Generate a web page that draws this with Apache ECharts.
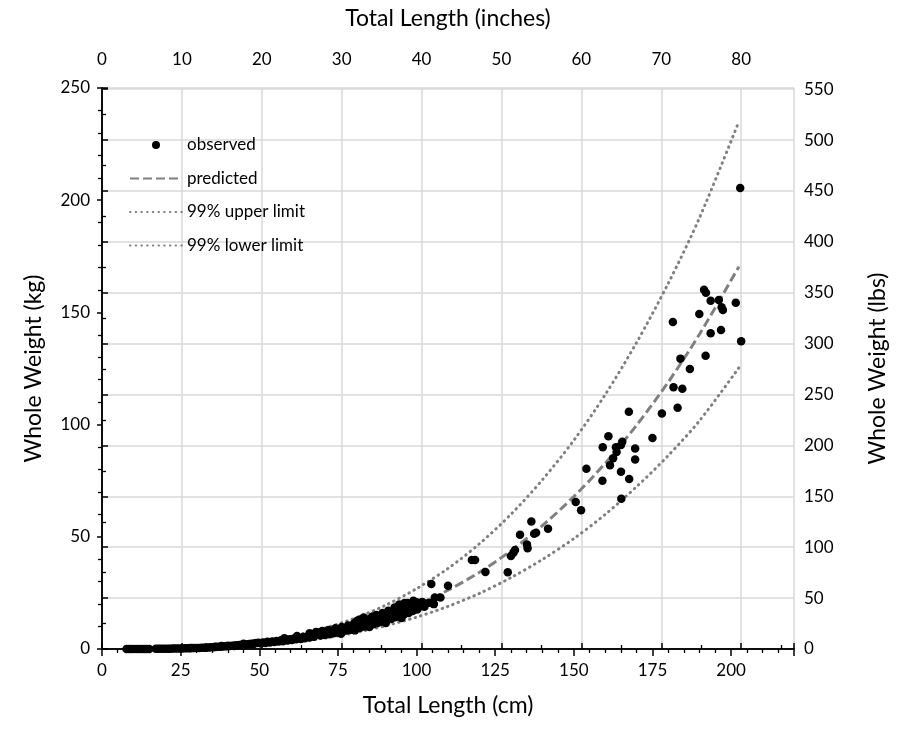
<!DOCTYPE html>
<html>
<head>
<meta charset="utf-8">
<script src="https://cdn.jsdelivr.net/npm/echarts@6/dist/echarts.min.js"></script>
<style>
  html, body { margin: 0; padding: 0; background: #fff; }
  #chart { width: 897px; height: 734px; }
</style>
</head>
<body>
<div id="chart"></div>
<script>
// observed fish: total length (cm) and whole weight (kg)
var obsLength = [
  7.8, 8.6, 9.3, 10.1, 11.0, 11.8, 12.6, 13.4, 14.2, 15.0,
  17.1, 17.9, 18.6, 19.4, 20.2, 21.0, 21.7, 22.5, 23.2, 24.0,
  24.8, 25.5, 26.3, 27.0, 27.8, 28.6, 29.3, 30.1, 30.8, 31.6,
  32.4, 33.1, 33.9, 34.6, 35.4, 36.1, 36.9, 37.7, 38.4, 39.2,
  39.9, 40.7, 41.4, 42.2, 43.0, 43.7, 44.5, 45.2, 46.0, 46.8,
  47.5, 48.3, 49.0, 49.8, 28.0, 33.0, 38.0, 42.0, 45.0, 48.0, 36.0, 40.0,
  50.5, 51.2, 52.0, 52.6, 53.4, 54.1, 54.8, 55.5, 56.2, 56.9,
  57.5, 58.3, 59.0, 59.6, 60.4, 61.1, 61.7, 62.5, 63.2, 63.9,
  64.5, 65.3, 66.0, 66.6, 67.4, 68.1, 68.7, 69.4, 70.2, 70.8,
  71.5, 72.3, 72.9, 73.6, 74.4, 75.0, 75.7, 76.5, 77.1, 77.8,
  78.6, 79.2, 80.0, 80.7, 81.3, 82.1, 82.8, 83.5, 84.2, 84.9,
  85.6, 86.3, 87.0, 87.6, 88.4, 89.0, 89.8, 90.5, 91.1, 91.9,
  92.5, 93.2, 94.0, 94.6, 95.4, 96.0, 96.7, 97.5, 98.1, 98.8,
  99.5, 100.2, 101.0, 101.8, 102.5,
  64.0, 69.0, 74.0, 79.0, 84.0, 88.0, 92.0, 96.5, 100.0, 83.0, 90.0, 97.0,
  58.0, 62.0, 66.0, 68.0, 70.0, 72.0, 74.2, 76.2, 78.2, 80.2, 81.0, 82.0,
  83.2, 85.2, 86.0, 87.2, 89.2, 91.0, 93.0, 95.0, 97.2, 99.0,
  76.0, 80.4, 85.0, 90.2, 95.2, 94.5, 96.2, 97.8, 99.3, 100.6,
  104.7, 104.0, 105.5, 105.8, 107.6, 110.0,
  117.6, 118.6, 121.9, 129.0, 130.0, 130.8, 131.3, 132.9, 135.1, 135.3, 136.5, 137.4, 138.0, 141.8,
  150.6, 152.3, 154.0, 159.1, 159.2, 161.0, 161.5, 162.5, 163.4, 163.6, 165.0, 165.4, 165.0, 165.1,
  167.5, 167.6, 169.5, 169.5, 175.0, 178.0, 181.7, 183.0, 184.5, 186.9, 183.9, 181.5, 191.9, 193.5,
  196.8, 203.2, 189.9, 191.4, 192.0, 193.5, 196.1, 197.0, 197.4, 201.5, 202.9
];
var obsWeight = [
  0.01, 0.01, 0.01, 0.02, 0.02, 0.02, 0.03, 0.03, 0.04, 0.05,
  0.07, 0.08, 0.09, 0.10, 0.12, 0.13, 0.15, 0.17, 0.19, 0.21,
  0.24, 0.26, 0.29, 0.32, 0.35, 0.39, 0.42, 0.47, 0.50, 0.55,
  0.60, 0.65, 0.71, 0.76, 0.83, 0.89, 0.96, 1.03, 1.10, 1.19,
  1.27, 1.36, 1.44, 1.55, 1.66, 1.76, 1.88, 1.98, 2.12, 2.24,
  2.36, 2.50, 2.62, 2.78, 0.45, 0.55, 1.3, 1.3, 2.3, 2.1, 1.05, 1.5,
  2.5, 2.9, 2.7, 3.2, 2.9, 3.3, 3.1, 3.6, 3.3, 3.9,
  3.5, 4.1, 3.8, 4.4, 4.0, 4.7, 4.3, 4.9, 4.5, 5.3,
  4.8, 5.6, 5.1, 6.0, 5.5, 6.3, 7.4, 6.0, 6.9, 6.2,
  7.4, 6.6, 7.9, 7.0, 8.2, 7.4, 8.8, 7.8, 9.1, 8.2,
  9.6, 8.6, 10.2, 9.0, 10.8, 9.5, 11.1, 10.0, 11.8, 10.5,
  12.3, 11.0, 13.0, 11.6, 13.6, 12.1, 14.2, 12.8, 15.0, 13.4,
  15.6, 14.1, 16.3, 14.7, 17.2, 15.4, 18.0, 16.0, 19.4, 16.9,
  20.3, 17.6, 19.5, 21.0, 18.8,
  5.0, 6.6, 7.6, 9.2, 11.0, 12.6, 14.6, 16.8, 20.8, 12.4, 15.3, 17.0,
  4.8, 5.8, 7.0, 7.6, 8.0, 8.5, 9.2, 9.8, 10.5, 11.5, 12.5, 13.2,
  14.0, 13.5, 14.5, 15.2, 16.0, 17.0, 18.5, 19.5, 20.5, 21.5,
  6.8, 8.3, 9.8, 11.6, 13.8, 19.8, 20.5, 19.4, 19.2, 18.5,
  29.0, 20.6, 20.0, 22.9, 23.0, 28.2,
  39.7, 39.7, 34.3, 34.2, 41.4, 42.9, 44.1, 50.9, 46.6, 44.9, 56.8, 51.4, 51.8, 53.6,
  65.5, 61.8, 80.3, 75.0, 89.9, 94.8, 81.9, 85.0, 89.9, 87.8, 90.9, 92.4, 79.0, 67.0,
  105.7, 75.8, 89.4, 84.4, 94.0, 104.9, 116.6, 107.5, 116.0, 124.8, 129.4, 145.7, 130.7, 140.7,
  142.2, 137.1, 149.3, 160.1, 158.8, 155.2, 155.5, 152.3, 151.1, 154.3, 205.4
];

// fitted curve and 99% limits, read at these lengths
var curveLength = [8, 10, 20, 30, 40, 50, 60, 70, 80, 90, 100, 110, 120, 130, 140, 150, 160, 170, 180, 190, 202.5];
var predicted  = [0.01, 0.02, 0.14, 0.49, 1.17, 2.33, 4.08, 6.54, 9.86, 14.2, 19.6, 26.2, 34.2, 43.8, 55.0, 67.9, 82.8, 99.8, 118.9, 140.4, 170.4];
var upperLimit = [0.01, 0.03, 0.19, 0.67, 1.6, 3.2, 5.6, 9.0, 13.5, 19.4, 26.9, 35.9, 46.9, 60.0, 75.4, 93.0, 113.4, 136.7, 162.9, 192.3, 235.1];
var lowerLimit = [0.01, 0.01, 0.10, 0.36, 0.85, 1.69, 2.96, 4.74, 7.15, 10.3, 14.2, 19.0, 24.8, 31.8, 39.9, 49.2, 60.0, 72.4, 86.2, 101.8, 125.4];

var CM_MAX = 220, KG_MAX = 250;
var IN_MAX = CM_MAX / 2.54, LB_MAX = KG_MAX * 2.20462;

function pairs(xs, ys) {
  return xs.map(function (x, i) { return [x, ys[i]]; });
}

var FONT = 'Lato';
var axisText = { color: '#000', fontFamily: FONT, fontSize: 17 };
var nameText = { color: '#000', fontFamily: FONT, fontSize: 23 };
var blackLine = { show: true, lineStyle: { color: '#000', width: 1.5 } };
var hideDot = { color: 'rgba(0,0,0,0)', borderColor: 'rgba(0,0,0,0)', borderWidth: 0, opacity: 0 };

var myChart = echarts.init(document.getElementById('chart'));

option = {
  animation: false,
  grid: { left: 102, right: 99, top: 88, bottom: 85 },
  legend: {
    orient: 'vertical',
    left: 124,
    top: 130,
    itemWidth: 52,
    itemHeight: 8,
    itemGap: 13.5,
    symbolKeepAspect: true,
    textStyle: { color: '#000', fontFamily: FONT, fontSize: 17, lineHeight: 20 },
    data: [
      { name: 'observed' },
      { name: 'predicted', itemStyle: hideDot },
      { name: '99% upper limit', itemStyle: hideDot },
      { name: '99% lower limit', itemStyle: hideDot }
    ]
  },
  xAxis: [{
    type: 'value', position: 'bottom',
    min: 0, max: CM_MAX, interval: 25,
    name: 'Total Length (cm)', nameLocation: 'middle', nameGap: 45, nameTextStyle: nameText,
    axisLine: blackLine,
    axisTick: { show: true, length: 7, lineStyle: { color: '#000', width: 1.5 } },
    minorTick: { show: true, splitNumber: 5, length: 4, lineStyle: { color: '#000', width: 1.3 } },
    axisLabel: Object.assign({ margin: 13, showMaxLabel: false,
      formatter: function (v) { return v % 25 === 0 ? String(v) : ''; } }, axisText),
    splitLine: { show: false }
  }, {
    type: 'value', position: 'top',
    min: 0, max: IN_MAX, interval: 10,
    name: 'Total Length (inches)', nameLocation: 'middle', nameGap: 58, nameTextStyle: nameText,
    axisLine: blackLine,
    axisTick: { show: true, length: 6, lineStyle: { color: '#000', width: 1.5 } },
    minorTick: { show: true, splitNumber: 2, length: 4, lineStyle: { color: '#000', width: 1.3 } },
    axisLabel: Object.assign({ margin: 20, showMaxLabel: false,
      formatter: function (v) { return v % 10 === 0 ? String(v) : ''; } }, axisText),
    splitLine: { show: true, lineStyle: { color: '#d9d9d9', width: 1.5 } }
  }],
  yAxis: [{
    type: 'value', position: 'left',
    min: 0, max: KG_MAX, interval: 50,
    name: 'Whole Weight (kg)', nameLocation: 'middle', nameGap: 57, nameTextStyle: nameText,
    axisLine: blackLine,
    axisTick: { show: true, length: 5, lineStyle: { color: '#000', width: 1.5 } },
    minorTick: { show: true, splitNumber: 5, length: 4, lineStyle: { color: '#000', width: 1.3 } },
    axisLabel: Object.assign({ margin: 12 }, axisText),
    splitLine: { show: false }
  }, {
    type: 'value', position: 'right',
    min: 0, max: LB_MAX, interval: 50,
    name: 'Whole Weight (lbs)', nameLocation: 'middle', nameGap: 72, nameTextStyle: nameText,
    axisLine: blackLine,
    axisTick: { show: true, length: 6, lineStyle: { color: '#000', width: 1.5 } },
    minorTick: { show: true, splitNumber: 2, length: 4, lineStyle: { color: '#000', width: 1.3 } },
    axisLabel: Object.assign({ margin: 10, showMaxLabel: false,
      formatter: function (v) { return v % 50 === 0 ? String(v) : ''; } }, axisText),
    splitLine: { show: true, lineStyle: { color: '#d9d9d9', width: 1.5 } }
  }],
  series: [{
    name: 'observed',
    type: 'scatter',
    xAxisIndex: 0, yAxisIndex: 0,
    symbol: 'circle',
    symbolSize: 8.5,
    itemStyle: { color: '#000', opacity: 1 },
    z: 4,
    data: pairs(obsLength, obsWeight)
  }, {
    name: 'predicted',
    type: 'line',
    xAxisIndex: 0, yAxisIndex: 0,
    showSymbol: false, symbol: 'none', smooth: 0.3,
    itemStyle: { color: '#808080' },
    lineStyle: { color: '#808080', width: 3, type: [9, 4] },
    z: 3,
    data: pairs(curveLength, predicted)
  }, {
    name: '99% upper limit',
    type: 'line',
    xAxisIndex: 0, yAxisIndex: 0,
    showSymbol: false, symbol: 'none', smooth: 0.3,
    itemStyle: { color: '#808080' },
    lineStyle: { color: '#7f7f7f', width: 3, type: [0.5, 5.2], cap: 'round' },
    z: 3,
    data: pairs(curveLength, upperLimit)
  }, {
    name: '99% lower limit',
    type: 'line',
    xAxisIndex: 0, yAxisIndex: 0,
    showSymbol: false, symbol: 'none', smooth: 0.3,
    itemStyle: { color: '#808080' },
    lineStyle: { color: '#7f7f7f', width: 3, type: [0.5, 5.2], cap: 'round' },
    z: 3,
    data: pairs(curveLength, lowerLimit)
  }]
};

myChart.setOption(option);
</script>
</body>
</html>
